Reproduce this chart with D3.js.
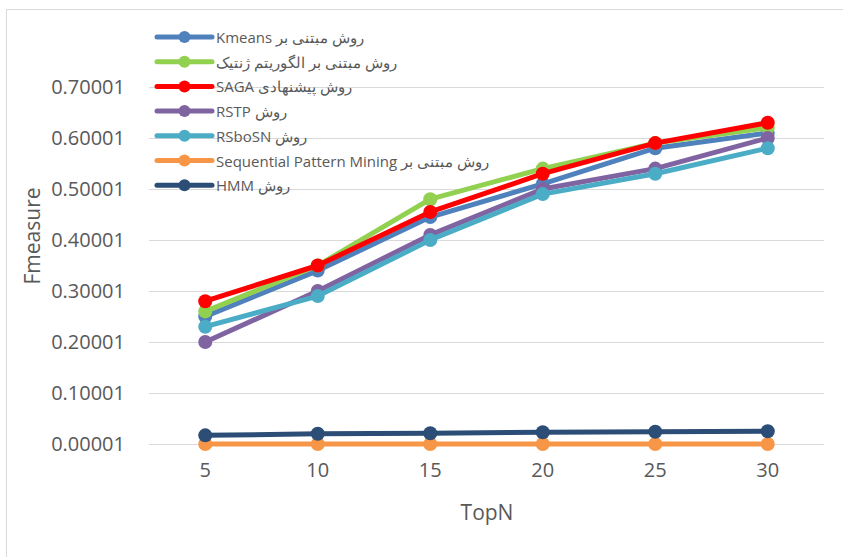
<!DOCTYPE html>
<html><head><meta charset="utf-8">
<script src="https://cdn.jsdelivr.net/npm/d3@7"></script>
<style>body{margin:0;background:#fff}svg{display:block}</style>
</head><body>
<svg id="c" width="843" height="557"></svg>
<script>
const categories = [5, 10, 15, 20, 25, 30];
const yTicks = [0.00001, 0.10001, 0.20001, 0.30001, 0.40001, 0.50001, 0.60001, 0.70001];
const seriesNames = [
  "Kmeans روش مبتنی بر",
  "روش مبتنی بر الگوریتم ژنتیک",
  "SAGA روش پیشنهادی",
  "RSTP روش",
  "RSboSN روش",
  "Sequential Pattern Mining روش مبتنی بر",
  "HMM روش"
];
const kmeans = [0.25, 0.34, 0.445, 0.51, 0.58, 0.61];
const genetic = [0.26, 0.35, 0.48, 0.54, 0.59, 0.62];
const saga = [0.28, 0.35, 0.455, 0.53, 0.59, 0.63];
const rstp = [0.20, 0.30, 0.41, 0.50, 0.54, 0.60];
const rsbosn = [0.23, 0.29, 0.40, 0.49, 0.53, 0.58];
const spm = [0.00001, 0.00001, 0.00001, 0.00001, 0.00001, 0.00001];
const hmm = [0.017, 0.020, 0.021, 0.023, 0.024, 0.025];
const colors = ["#4F81BD", "#92D050", "#FF0000", "#8064A2", "#4BACC6", "#F79646", "#2C4D75"];

const seriesValues = [kmeans, genetic, saga, rstp, rsbosn, spm, hmm];
const series = seriesNames.map((n, i) => ({name: n, values: seriesValues[i], color: colors[i]}));

const svg = d3.select("#c");
const font = "'Open Sans', 'Liberation Sans', sans-serif";
const txt = "#595959";

// outer chart border
svg.append("rect").attr("x", 6.5).attr("y", 9.5).attr("width", 900).attr("height", 600)
  .attr("fill", "none").attr("stroke", "#D9D9D9").attr("stroke-width", 1);

const plot = {left: 149, right: 824, top: 87, bottom: 444};
const x = d3.scaleBand().domain(categories).range([plot.left, plot.right]);
const y = d3.scaleLinear().domain([0.00001, 0.70001]).range([plot.bottom, plot.top]);

// gridlines
svg.append("g").selectAll("line").data(yTicks).join("line")
  .attr("x1", plot.left).attr("x2", plot.right)
  .attr("y1", d => Math.round(y(d)) + 0.5).attr("y2", d => Math.round(y(d)) + 0.5)
  .attr("stroke", "#D9D9D9").attr("stroke-width", 1.2);

// y axis labels
const yAxis = d3.axisLeft(y).tickValues(yTicks).tickFormat(d3.format(".5f")).tickSize(0).tickPadding(0);
const gy = svg.append("g").attr("transform", `translate(125,0)`).call(yAxis);
gy.select(".domain").remove();
gy.selectAll("text").attr("fill", txt).style("font-family", font).style("font-size", "20px");

// x axis labels
const xAxis = d3.axisBottom(x).tickSize(0).tickPadding(0);
const gx = svg.append("g").attr("transform", `translate(0,463)`).call(xAxis);
gx.select(".domain").remove();
gx.selectAll("text").attr("fill", txt).style("font-family", font).style("font-size", "20px");

// axis titles
svg.append("text").attr("x", 487).attr("y", 520).attr("text-anchor", "middle")
  .attr("fill", txt).style("font-family", font).style("font-size", "21px").text("TopN");
svg.append("text").attr("transform", "translate(40,236) rotate(-90)").attr("text-anchor", "middle")
  .attr("fill", txt).style("font-family", font).style("font-size", "21px").text("Fmeasure");

// lines
const line = d3.line().x((d, i) => x(categories[i]) + x.bandwidth() / 2).y(d => y(d));
const gs = svg.append("g").selectAll("g").data(series).join("g");
gs.append("path").attr("d", d => line(d.values)).attr("fill", "none")
  .attr("stroke", d => d.color).attr("stroke-width", 5).attr("stroke-linejoin", "round").attr("stroke-linecap", "round");
gs.selectAll("circle").data(d => d.values.map(v => ({v, c: d.color}))).join("circle")
  .attr("cx", (d, i) => x(categories[i]) + x.bandwidth() / 2).attr("cy", d => y(d.v))
  .attr("r", 7).attr("fill", d => d.c);

// legend
const lg = svg.append("g").selectAll("g").data(series).join("g")
  .attr("transform", (d, i) => `translate(157,${37 + i * 24.7})`);
lg.append("line").attr("x1", 0).attr("x2", 55).attr("y1", 0).attr("y2", 0)
  .attr("stroke", d => d.color).attr("stroke-width", 5).attr("stroke-linecap", "round");
lg.append("circle").attr("cx", 27.5).attr("cy", 0).attr("r", 6).attr("fill", d => d.color);
lg.append("text").attr("x", 59).attr("y", 6).attr("fill", txt)
  .style("font-family", font).style("font-size", "15px").text(d => d.name);
</script>
</body></html>
